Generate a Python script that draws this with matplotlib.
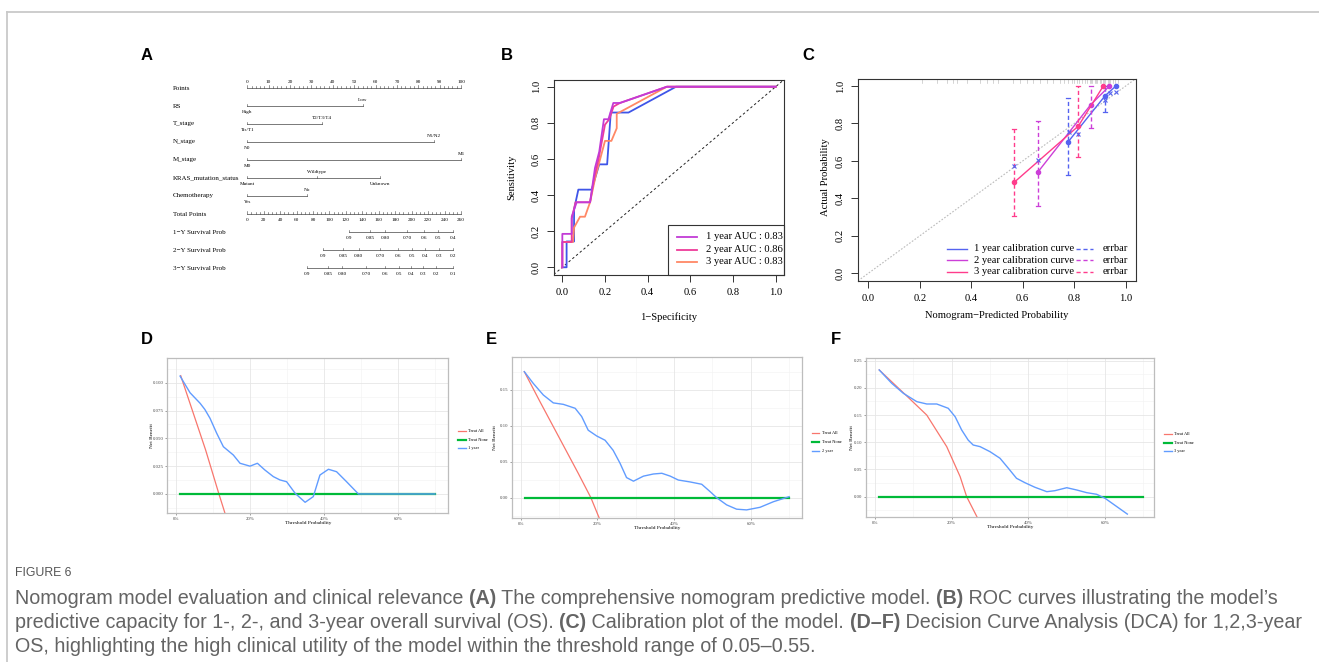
import matplotlib
matplotlib.use('Agg')
import matplotlib.pyplot as plt
import numpy as np

W, H = 1319, 662
plt.rcParams['font.family'] = ['Liberation Serif', 'DejaVu Serif']
fig = plt.figure(figsize=(W / 100, H / 100), dpi=100)

SANS = ['Liberation Sans', 'DejaVu Sans']
SERIF = ['Liberation Serif', 'DejaVu Serif']

# ---------------- data ----------------
# Panel A : nomogram
nomo_rows = ['Points', 'RS', 'T_stage', 'N_stage', 'M_stage', 'KRAS_mutation_status',
             'Chemotherapy', 'Total Points', '1\u2212Y Survival Prob',
             '2\u2212Y Survival Prob', '3\u2212Y Survival Prob']
rs_levels = ['High', 'Low']
rs_points = [0, 54]
t_levels = ['Tis/T1', 'T2/T3/T4']
t_points = [0, 35]
n_levels = ['N0', 'N1/N2']
n_points = [0, 87.5]
m_levels = ['M0', 'M1']
m_points = [0, 100]
kras_levels = ['Mutant', 'Wildtype', 'Unknown']
kras_points = [0, 32.5, 62]
chemo_levels = ['Yes', 'No']
chemo_points = [0, 28]
points_ticks = list(range(0, 101, 10))
total_ticks = list(range(0, 261, 20))
surv1_labels = ['0.9', '0.85', '0.80', '0.70', '0.6', '0.5', '0.4']
surv1_total = [123.7, 149.6, 167.8, 194.5, 215.5, 232.5, 249.9]
surv2_labels = ['0.9', '0.85', '0.80', '0.70', '0.6', '0.5', '0.4', '0.3', '0.2']
surv2_total = [92.2, 116.5, 135.5, 161.7, 183.2, 200.2, 216.7, 232.9, 249.9]
surv3_labels = ['0.9', '0.85', '0.80', '0.70', '0.6', '0.5', '0.4', '0.3', '0.2', '0.1']
surv3_total = [72.8, 97.9, 115.6, 144.8, 167.8, 184.0, 199.3, 213.5, 229.7, 250.7]
TOTAL_MAX = 260

# Panel B : ROC
roc_blue_fpr = [0, 0.02, 0.02, 0.055, 0.055, 0.075, 0.1375, 0.173, 0.21, 0.227, 0.31, 0.533, 1.0]
roc_blue_tpr = [0, 0, 0.143, 0.143, 0.32, 0.43, 0.43, 0.57, 0.57, 0.857, 0.857, 1.0, 1.0]
roc1_fpr = [0, 0, 0.044, 0.044, 0.067, 0.13, 0.153, 0.173, 0.195, 0.216, 0.239, 0.27, 0.49, 1.0]
roc1_tpr = [0, 0.185, 0.185, 0.28, 0.36, 0.36, 0.55, 0.64, 0.82, 0.82, 0.91, 0.91, 1.0, 1.0]
roc2_fpr = [0, 0, 0.044, 0.044, 0.062, 0.13, 0.15, 0.17, 0.2, 0.22, 0.24, 0.27, 0.49, 1.0]
roc2_tpr = [0, 0.14, 0.14, 0.27, 0.36, 0.36, 0.5, 0.6, 0.79, 0.82, 0.89, 0.91, 1.0, 1.0]
roc3_fpr = [0, 0, 0.05, 0.055, 0.083, 0.106, 0.13, 0.155, 0.2, 0.23, 0.255, 0.255, 0.49, 1.0]
roc3_tpr = [0, 0.14, 0.14, 0.22, 0.28, 0.28, 0.36, 0.5, 0.70, 0.70, 0.77, 0.85, 1.0, 1.0]
roc_labels = ['1 year AUC : 0.83', '2 year AUC : 0.86', '3 year AUC : 0.83']

# Panel C : calibration
cal1_pred = [0.777, 0.92, 0.962]
cal1_obs = [0.703, 0.948, 1.0]
cal1_lo = [0.525, 0.86, 1.0]
cal1_hi = [0.934, 1.0, 1.0]
cal2_pred = [0.658, 0.864, 0.937]
cal2_obs = [0.539, 0.90, 1.0]
cal2_lo = [0.359, 0.778, 1.0]
cal2_hi = [0.813, 1.0, 1.0]
cal3_pred = [0.567, 0.816, 0.913]
cal3_obs = [0.486, 0.786, 1.0]
cal3_lo = [0.306, 0.619, 1.0]
cal3_hi = [0.769, 1.0, 1.0]
calx_pred = [0.567, 0.658, 0.78, 0.813, 0.92, 0.939, 0.962]
calx_obs = [0.573, 0.605, 0.755, 0.744, 0.925, 0.962, 0.968]
rug_x = [0.207, 0.266, 0.304, 0.33, 0.343, 0.382, 0.434, 0.46, 0.486, 0.505, 0.563, 0.589,
         0.615, 0.641, 0.667, 0.693, 0.719, 0.745, 0.76, 0.775, 0.79, 0.80, 0.81, 0.82, 0.83,
         0.84, 0.85, 0.86, 0.865, 0.87, 0.88, 0.885, 0.89, 0.9, 0.905, 0.91, 0.915, 0.92,
         0.93, 0.935, 0.94, 0.95, 0.96, 0.97]
cal_labels = ['1 year calibration curve', '2 year calibration curve', '3 year calibration curve']

# Panels D-F : decision curves
d_all_x = [0.0127, 0.08, 0.116, 0.133]
d_all_y = [0.1064, 0.0396, 0.0, -0.018]
d_mod_x = [0.011, 0.038, 0.065, 0.078, 0.092, 0.11, 0.128, 0.155, 0.173, 0.2, 0.22, 0.24,
           0.263, 0.281, 0.299, 0.322, 0.349, 0.371, 0.389, 0.412, 0.434, 0.461, 0.493, 0.70]
d_mod_y = [0.106, 0.091, 0.0816, 0.076, 0.068, 0.0546, 0.0425, 0.035, 0.0276, 0.025, 0.0276,
           0.0216, 0.0156, 0.0126, 0.011, 0.0006, -0.0075, -0.0024, 0.017, 0.0222, 0.020, 0.011,
           0.0, 0.0]
d_none_x = [0.01, 0.70]
d_none_y = [0.0, 0.0]

e_all_x = [0.0094, 0.05, 0.10, 0.15, 0.183, 0.206]
e_all_y = [0.1755, 0.134, 0.084, 0.034, 0.0, -0.03]
e_mod_x = [0.0094, 0.033, 0.059, 0.085, 0.111, 0.142, 0.159, 0.176, 0.198, 0.22, 0.241, 0.259,
           0.276, 0.294, 0.32, 0.346, 0.368, 0.39, 0.411, 0.441, 0.472, 0.494, 0.511, 0.537,
           0.563, 0.589, 0.624, 0.659, 0.70]
e_mod_y = [0.1755, 0.159, 0.143, 0.132, 0.130, 0.1245, 0.113, 0.094, 0.086, 0.080, 0.066,
           0.048, 0.028, 0.023, 0.030, 0.033, 0.034, 0.030, 0.0246, 0.022, 0.0187, 0.0084, 0.0,
           -0.010, -0.016, -0.017, -0.0134, -0.0056, 0.0014]
e_none_x = [0.01, 0.70]
e_none_y = [0.0, 0.0]

f_all_x = [0.011, 0.05, 0.083, 0.135, 0.187, 0.222, 0.239, 0.268]
f_all_y = [0.233, 0.207, 0.185, 0.150, 0.092, 0.0368, 0.0, -0.04]
f_mod_x = [0.011, 0.0435, 0.074, 0.109, 0.135, 0.161, 0.191, 0.209, 0.226, 0.243, 0.256, 0.274,
           0.30, 0.326, 0.348, 0.369, 0.391, 0.417, 0.448, 0.469, 0.50, 0.526, 0.552, 0.578,
           0.60, 0.63, 0.658]
f_mod_y = [0.233, 0.2085, 0.190, 0.1747, 0.1704, 0.1704, 0.1625, 0.147, 0.1226, 0.104, 0.095,
           0.092, 0.0827, 0.0706, 0.052, 0.0338, 0.0257, 0.0173, 0.0092, 0.011, 0.0165, 0.0123,
           0.0074, 0.0044, -0.003, -0.018, -0.032]
f_none_x = [0.011, 0.698]
f_none_y = [0.0, 0.0]

pct_ticks = [0, 0.2, 0.4, 0.6]
pct_labels = ['0%', '20%', '40%', '60%']


# ---------------- helpers ----------------
def add_ax(l, t, r, b, **kw):
    return fig.add_axes([l / W, 1 - b / H, (r - l) / W, (b - t) / H], **kw)


def ftext(x, y, s, **kw):
    return fig.text(x / W, 1 - y / H, s, **kw)


# background frame
bg = add_ax(0, 0, W, H)
bg.set_xlim(0, W)
bg.set_ylim(H, 0)
bg.axis('off')
bg.set_zorder(-5)
bg.plot([7, 7], [12, H], color='#c9c9c9', lw=1.3)
bg.plot([7, W], [12, 12], color='#c9c9c9', lw=1.3)

# panel letters
for lab, (x, y) in zip('ABCDEF', [(147, 56), (507, 56), (808, 56), (147, 339), (491, 339), (836, 339)]):
    ftext(x, y, lab, family=SANS, fontweight='bold', fontsize=12, ha='center', va='center')

# ---------------- Panel A ----------------
axA = add_ax(160, 70, 470, 280)
PX = 2.137  # pixels per point
axA.set_xlim((160 - 247.3) / PX, (470 - 247.3) / PX)
axA.set_ylim((280 - 88) / 18, (70 - 88) / 18)
axA.axis('off')
lc = '#444444'
rowfs = 5.0
tickfs = 3.7
up = 2.2 / 18
lab_off = 6 / 18

for i, name in enumerate(nomo_rows):
    axA.text(-34.9, i, name, fontsize=rowfs, ha='left', va='center', family=SERIF)

# Points axis
axA.plot([0, 100], [0, 0], color=lc, lw=0.5)
for v in np.arange(0, 101, 2):
    h = up * 1.4 if v % 10 == 0 else up * 0.8
    axA.plot([v, v], [0, -h], color=lc, lw=0.4)
for v in points_ticks:
    axA.text(v, -lab_off, str(v), fontsize=tickfs, ha='center', va='center')

# categorical rows
for i, (levels, pts) in enumerate([(rs_levels, rs_points), (t_levels, t_points), (n_levels, n_points),
                                   (m_levels, m_points), (kras_levels, kras_points),
                                   (chemo_levels, chemo_points)], start=1):
    axA.plot([min(pts), max(pts)], [i, i], color=lc, lw=0.5)
    for k, (lv, p) in enumerate(zip(levels, pts)):
        axA.plot([p, p], [i, i - up], color=lc, lw=0.4)
        off = lab_off if k % 2 == 0 else -lab_off
        axA.text(p, i + off, lv, fontsize=tickfs, ha='center', va='center')

# Total points
scale = 100 / TOTAL_MAX
axA.plot([0, 100], [7, 7], color=lc, lw=0.5)
for v in np.arange(0, TOTAL_MAX + 1, 5):
    h = up * 1.4 if v % 20 == 0 else up * 0.8
    axA.plot([v * scale, v * scale], [7, 7 - h], color=lc, lw=0.4)
for v in total_ticks:
    axA.text(v * scale, 7 + lab_off, str(v), fontsize=tickfs, ha='center', va='center')

for i, (labs, tots) in enumerate([(surv1_labels, surv1_total), (surv2_labels, surv2_total),
                                  (surv3_labels, surv3_total)], start=8):
    xs = [t * scale for t in tots]
    axA.plot([min(xs), max(xs)], [i, i], color=lc, lw=0.5)
    for lb, x in zip(labs, xs):
        axA.plot([x, x], [i, i - up], color=lc, lw=0.4)
        axA.text(x, i + lab_off, lb, fontsize=tickfs, ha='center', va='center')


# ---------------- R-style base axes ----------------
def r_axes(l, t, r, b):
    ax = add_ax(l, t, r, b)
    ax.set_xlim(-0.04, 1.04)
    ax.set_ylim(-0.04, 1.04)
    for s in ax.spines.values():
        s.set_linewidth(0.8)
        s.set_color('#333333')
    ticks = np.round(np.arange(0, 1.01, 0.2), 1)
    ax.set_xticks(ticks)
    ax.set_yticks(ticks)
    ax.set_xticklabels(['%.1f' % v for v in ticks])
    ax.set_yticklabels(['%.1f' % v for v in ticks], rotation=90, va='center')
    ax.tick_params(direction='out', length=5, width=0.7, labelsize=7.6, pad=4.5, color='#333333')
    return ax


# ---------------- Panel B ----------------
axB = r_axes(553.8, 79.5, 784.2, 274.5)
axB.plot([-0.04, 1.04], [-0.04, 1.04], color='#222222', lw=0.7, ls=(0, (2.5, 2.5)))
c_blue, c_purple, c_pink, c_orange = '#3F55E8', '#C23BD6', '#EE3C9A', '#FF8866'
axB.plot(roc_blue_fpr, roc_blue_tpr, color=c_blue, lw=1.3)
axB.plot(roc3_fpr, roc3_tpr, color=c_orange, lw=1.3)
axB.plot(roc2_fpr, roc2_tpr, color=c_pink, lw=1.3)
axB.plot(roc1_fpr, roc1_tpr, color=c_purple, lw=1.3)
axB.add_patch(plt.Rectangle((0.497, -0.04), 1.04 - 0.497, 0.274, fill=False, lw=0.8,
                            edgecolor='#333333', clip_on=False))
for lab, col, yy in zip(roc_labels, [c_purple, c_pink, c_orange], [0.169, 0.096, 0.031]):
    axB.plot([0.536, 0.63], [yy, yy], color=col, lw=1.3)
    axB.text(0.674, yy, lab, fontsize=7.6, va='center', ha='left')
ftext(669, 317, '1\u2212Specificity', fontsize=7.6, ha='center', va='center')
ftext(511.7, 177, 'Sensitivity', fontsize=7.6, ha='center', va='center', rotation=90)

# ---------------- Panel C ----------------
axC = r_axes(858, 78.5, 1136, 280.8)
axC.plot([-0.04, 1.04], [-0.04, 1.04], color='#BBBBBB', lw=0.8, ls=(0, (1.5, 1.5)))
for xv in rug_x:
    axC.plot([xv, xv], [1.04, 1.018], color='#C4C4C4', lw=0.5)
k1, k2, k3 = '#5563F0', '#CC3FD8', '#FF3C8C'
for pred, obs, lo, hi, col in [(cal1_pred, cal1_obs, cal1_lo, cal1_hi, k1),
                               (cal2_pred, cal2_obs, cal2_lo, cal2_hi, k2),
                               (cal3_pred, cal3_obs, cal3_lo, cal3_hi, k3)]:
    axC.plot(pred, obs, color=col, lw=1.0)
    axC.plot(pred, obs, 'o', color=col, ms=3)
    for p, a, b in zip(pred, lo, hi):
        if b - a > 0.001:
            axC.plot([p, p], [a, b], color=col, lw=1.0, ls=(0, (3, 2)))
            axC.plot([p - 0.008, p + 0.008], [a, a], color=col, lw=0.9)
            axC.plot([p - 0.008, p + 0.008], [b, b], color=col, lw=0.9)
axC.plot(calx_pred, calx_obs, 'x', color=k1, ms=3.5, mew=0.8)
for lab, col, yy in zip(cal_labels, [k1, k2, k3], [0.131, 0.069, 0.007]):
    axC.plot([0.305, 0.382], [yy, yy], color=col, lw=1.0)
    axC.text(0.41, yy, lab, fontsize=7.6, va='center', ha='left')
    axC.plot([0.807, 0.873], [yy, yy], color=col, lw=1.0, ls=(0, (3, 2)))
    axC.text(0.911, yy, 'errbar', fontsize=7.6, va='center', ha='left')
ftext(997, 315, 'Nomogram\u2212Predicted Probability', fontsize=7.6, ha='center', va='center')
ftext(825, 177, 'Actual Probability', fontsize=7.6, ha='center', va='center', rotation=90)

# ---------------- Panels D-F ----------------
RED, GREEN, BLUE = '#F8766D', '#00BA38', '#619CFF'


def dca(l, t, r, b, x0px, xunit, ylim, yticks, yfmt, all_x, all_y, none_x, none_y, mod_x, mod_y,
        xlab_y, ylab_x, leg_x, leg_y, model_label):
    ax = add_ax(l, t, r, b)
    ax.set_xlim((l - x0px) / xunit, (r - x0px) / xunit)
    ax.set_ylim(*ylim)
    for v in [0.1, 0.3, 0.5, 0.7]:
        ax.axvline(v, color='#F4F4F4', lw=0.5, zorder=0)
    step = yticks[1] - yticks[0]
    for v in np.arange(yticks[0] - step / 2, ylim[1], step):
        ax.axhline(v, color='#F4F4F4', lw=0.5, zorder=0)
    for v in pct_ticks:
        ax.axvline(v, color='#E6E6E6', lw=0.6, zorder=0)
    for v in yticks:
        ax.axhline(v, color='#E6E6E6', lw=0.6, zorder=0)
    for s in ax.spines.values():
        s.set_color('#BDBDBD')
        s.set_linewidth(0.9)
    ax.set_xticks(pct_ticks)
    ax.set_xticklabels(pct_labels)
    ax.set_yticks(yticks)
    ax.set_yticklabels([yfmt % v for v in yticks])
    ax.tick_params(length=1.5, width=0.4, color='#555555', labelsize=3.5, labelcolor='#4D4D4D', pad=1)
    ax.plot(all_x, all_y, color=RED, lw=0.9)
    ax.plot(none_x, none_y, color=GREEN, lw=1.6)
    ax.plot(mod_x, mod_y, color=BLUE, lw=1.0)
    cx = (l + r) / 2
    ftext(cx, xlab_y, 'Threshold Probability', fontsize=3.8, ha='center', va='center')
    ftext(ylab_x, (t + b) / 2, 'Net Benefit', fontsize=3.8, ha='center', va='center', rotation=90)
    bg.plot([leg_x, leg_x + 7.5], [leg_y[0], leg_y[0]], color=RED, lw=0.9)
    bg.plot([leg_x, leg_x + 7.5], [leg_y[1], leg_y[1]], color=GREEN, lw=1.6)
    bg.plot([leg_x, leg_x + 7.5], [leg_y[2], leg_y[2]], color=BLUE, lw=1.0)
    for s, yy in zip(['Treat All', 'Treat None', model_label], leg_y):
        ftext(leg_x + 10, yy, s, fontsize=3.2, ha='left', va='center')
    return ax


dca(167.3, 358.3, 448.3, 513.3, 176, 370, (-0.0174, 0.122), [0, 0.025, 0.05, 0.075, 0.1], '%.3f',
    d_all_x, d_all_y, d_none_x, d_none_y, d_mod_x, d_mod_y, 523.3, 151.7, 458, [431, 439.7, 448.3], '1 year')
dca(511.7, 357.3, 801.7, 518.3, 520.7, 383.5, (-0.0287, 0.1955), [0, 0.05, 0.10, 0.15], '%.2f',
    e_all_x, e_all_y, e_none_x, e_none_y, e_mod_x, e_mod_y, 527.7, 495, 811.7, [433.3, 442, 450.7], '2 year')
dca(866, 358.3, 1154.3, 517.3, 875, 383.5, (-0.0379, 0.2544), [0, 0.05, 0.10, 0.15, 0.20, 0.25], '%.2f',
    f_all_x, f_all_y, f_none_x, f_none_y, f_mod_x, f_mod_y, 526.7, 852.3, 1164, [434, 442.7, 451], '3 year')

# ---------------- caption ----------------
CAP = ['Liberation Sans', 'DejaVu Sans']
cap_color = '#646464'
ftext(15, 573, 'FIGURE 6', family=CAP, fontsize=8.8, color='#555555', ha='left', va='center')
cap_lines = [
    [('Nomogram model evaluation and clinical relevance ', False), ('(A)', True),
     (' The comprehensive nomogram predictive model. ', False), ('(B)', True),
     (' ROC curves illustrating the model\u2019s', False)],
    [('predictive capacity for 1-, 2-, and 3-year overall survival (OS). ', False), ('(C)', True),
     (' Calibration plot of the model. ', False), ('(D\u2013F)', True),
     (' Decision Curve Analysis (DCA) for 1,2,3-year', False)],
    [('OS, highlighting the high clinical utility of the model within the threshold range of 0.05\u20130.55.', False)],
]
cap_y = [599, 623, 647]
renderer = fig.canvas.get_renderer()


def line_width(pieces, size):
    tot = 0
    for txt, bold in pieces:
        t = fig.text(0, 0, txt, family=CAP, fontsize=size, fontweight='bold' if bold else 'normal')
        tot += t.get_window_extent(renderer).width
        t.remove()
    return tot


base = 12.0
size = base * (1288 / line_width(cap_lines[1], base))
for pieces, yy in zip(cap_lines, cap_y):
    x = 15
    for txt, bold in pieces:
        t = ftext(x, yy, txt, family=CAP, fontsize=size, fontweight='bold' if bold else 'normal',
                  color=cap_color, ha='left', va='center')
        x += t.get_window_extent(renderer).width

fig.savefig('out.png', dpi=100)
